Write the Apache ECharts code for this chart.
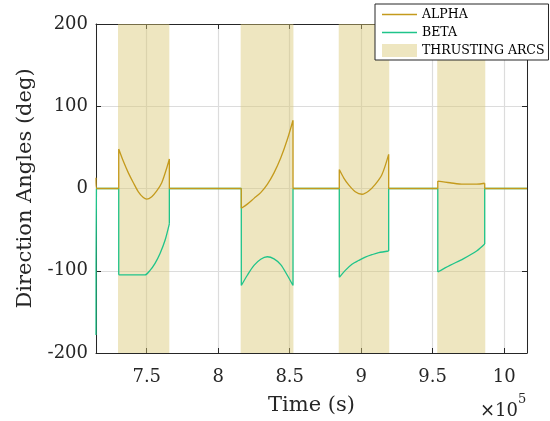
<!DOCTYPE html>
<html>
<head>
<meta charset="utf-8">
<script src="https://cdn.jsdelivr.net/npm/echarts@6/dist/echarts.min.js"></script>
<style>
html,body{margin:0;padding:0;background:#fff;}
#c{width:550px;height:421px;}
</style>
</head>
<body>
<div id="c"></div>
<script>
// Time (s), angle (deg).
const alphaStart = [[714500, 13], [714800, 0]];
const betaStart = [[714500, -178], [714800, 0]];
const alphaArcs = [
  [[730400, 48], [733640, 33], [737130, 19], [740630, 7], [744130, -4], [747620, -11],
   [750000, -13], [753500, -10], [756990, -3], [760490, 7], [763990, 25], [765800, 36]],
  [[816150, -24], [820350, -19], [825030, -12], [829720, -5], [834340, 5], [839020, 19],
   [843710, 37], [848320, 59.5], [852310, 83]],
  [[884700, 23], [887760, 13], [891260, 4.4], [895870, -4], [900560, -7], [905250, -3],
   [909860, 5], [914550, 17], [919230, 41.5]],
  [[953600, 9], [962100, 7], [971400, 5.2], [980770, 5.2], [986400, 6.4]]
];
const betaArcs = [
  [[730400, -105], [748810, -105], [752310, -99.5], [755800, -91], [759300, -79],
   [762800, -63], [765800, -43]],
  [[816150, -118], [820350, -105.5], [825030, -93.5], [829720, -86], [834340, -83],
   [839020, -85.5], [843710, -92.5], [848320, -105.5], [852310, -118]],
  [[884700, -108], [888880, -99.5], [893560, -92], [898250, -87.5], [902870, -83.5],
   [907550, -80.5], [912240, -78], [919230, -76]],
  [[953600, -101.5], [962100, -93.5], [971400, -85.5], [980770, -76], [986400, -67.5]]
];
const thrustArcs = [
  [729900, 765800],
  [815700, 852600],
  [884300, 919650],
  [953200, 986800]
];
const xRange = [714500, 1016000];
const yRange = [-200, 200];
const xTickStep = 50000;
const yTickStep = 100;

// Build a line with breaks so each arc is smoothed on its own, jumps stay straight.
function buildLine(start, arcs) {
  const gap = ['-', '-'];
  const out = start.slice();
  let lastT = start[start.length - 1][0];
  arcs.forEach(arc => {
    const a = arc[0], b = arc[arc.length - 1];
    out.push([lastT, 0], [a[0], 0], gap);
    out.push([a[0], 0], [a[0], a[1]], gap);
    arc.forEach(p => out.push(p));
    out.push(gap, [b[0], b[1]], [b[0], 0], gap);
    lastT = b[0];
  });
  out.push([lastT, 0], [xRange[1], 0]);
  return out;
}

const FONT = 'DejaVu Serif';
const AX = '#262626';
const LINE_ICON = 'path://M0,0L0.01,0L0,0.01ZM0,5.85L35,5.85L35,7.15L0,7.15ZM35,13L34.99,13L35,12.99Z';
const chart = echarts.init(document.getElementById('c'), null, {renderer: 'canvas'});

const xLabelFmt = v => (Math.abs(v / xTickStep - Math.round(v / xTickStep)) < 1e-6) ? String(v / 1e5) : '';

chart.setOption({
  animation: false,
  backgroundColor: '#fff',
  grid: {left: 96, right: 23, top: 24, bottom: 66},
  legend: {
    orient: 'vertical', left: 375, top: 4,
    backgroundColor: '#fff',
    borderColor: AX, borderWidth: 1, borderRadius: 0,
    padding: [4, 4, 3, 7],
    itemWidth: 35, itemHeight: 13, itemGap: 5, itemTextGap: 4,
    textStyle: {fontFamily: FONT, fontSize: 12.5, color: '#000', lineHeight: 13},
    data: [
      {name: 'ALPHA', icon: LINE_ICON},
      {name: 'BETA', icon: LINE_ICON},
      {name: 'THRUSTING ARCS', icon: 'rect'}
    ]
  },
  xAxis: [{
    type: 'value', min: xRange[0], max: xRange[1], splitNumber: 6,
    axisLine: {show: true, onZero: false, lineStyle: {color: AX, width: 1}},
    axisTick: {show: true, inside: true, length: 5, lineStyle: {color: AX}},
    axisLabel: {fontFamily: FONT, fontSize: 18, color: '#262626', margin: 15, formatter: xLabelFmt},
    splitLine: {show: true, lineStyle: {color: '#dcdcdc', width: 1.2}},
    name: 'Time (s)', nameLocation: 'middle', nameGap: 42,
    nameTextStyle: {fontFamily: FONT, fontSize: 21, color: '#262626'}
  }, {
    type: 'value', position: 'top', min: xRange[0], max: xRange[1], splitNumber: 6,
    axisLine: {show: true, onZero: false, lineStyle: {color: AX, width: 1}},
    axisTick: {show: true, inside: true, length: 5, lineStyle: {color: AX}},
    axisLabel: {show: false}, splitLine: {show: false}
  }],
  yAxis: [{
    type: 'value', min: yRange[0], max: yRange[1], interval: yTickStep,
    axisLine: {show: true, onZero: false, lineStyle: {color: AX, width: 1}},
    axisTick: {show: true, inside: true, length: 5, lineStyle: {color: AX}},
    axisLabel: {fontFamily: FONT, fontSize: 18, color: '#262626', margin: 8},
    splitLine: {show: true, lineStyle: {color: '#dcdcdc', width: 1.2}},
    name: 'Direction Angles (deg)', nameLocation: 'middle', nameGap: 60,
    nameTextStyle: {fontFamily: FONT, fontSize: 21, color: '#262626'}
  }, {
    type: 'value', position: 'right', min: yRange[0], max: yRange[1], interval: yTickStep,
    axisLine: {show: true, onZero: false, lineStyle: {color: AX, width: 1}},
    axisTick: {show: true, inside: true, length: 5, lineStyle: {color: AX}},
    axisLabel: {show: false}, splitLine: {show: false}
  }],
  series: [{
    name: 'THRUSTING ARCS', type: 'custom', z: 1, clip: true,
    itemStyle: {color: 'rgba(217,199,115,0.45)'},
    encode: {x: [0, 1]},
    data: thrustArcs,
    renderItem: function (params, api) {
      const p0 = api.coord([api.value(0), yRange[1]]);
      const p1 = api.coord([api.value(1), yRange[0]]);
      return {
        type: 'rect',
        shape: {x: p0[0], y: p0[1], width: p1[0] - p0[0], height: p1[1] - p0[1]},
        style: {fill: 'rgba(217,199,115,0.45)'}
      };
    }
  }, {
    name: 'BETA', type: 'line', z: 2, symbol: 'none', data: buildLine(betaStart, betaArcs),
    smooth: 0.3, connectNulls: false,
    lineStyle: {color: '#1fc48a', width: 1.3}, itemStyle: {color: '#1fc48a'}
  }, {
    name: 'ALPHA', type: 'line', z: 3, symbol: 'none', data: buildLine(alphaStart, alphaArcs),
    smooth: 0.3, connectNulls: false,
    lineStyle: {color: '#c49a1c', width: 1.3}, itemStyle: {color: '#c49a1c'}
  }],
  graphic: [{
    type: 'text', left: 480, top: 402,
    style: {text: '×10', fontFamily: FONT, fontSize: 18, fill: '#262626'}
  }, {
    type: 'text', left: 518, top: 393,
    style: {text: '5', fontFamily: FONT, fontSize: 13, fill: '#262626'}
  }]
});
</script>
</body>
</html>
